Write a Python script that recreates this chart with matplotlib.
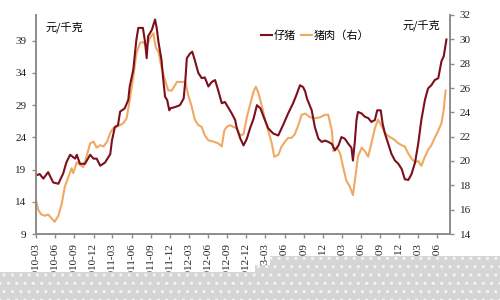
import matplotlib
matplotlib.use("Agg")
import matplotlib.pyplot as plt
import matplotlib.dates as mdates
from matplotlib.patches import Polygon
import pandas as pd

# ---- data ----
piglet_dates = [
    "2010-03-01", "2010-03-19", "2010-04-05", "2010-04-28", "2010-05-22", "2010-06-16",
    "2010-07-09", "2010-07-24", "2010-08-11", "2010-09-04", "2010-09-12", "2010-09-27",
    "2010-10-21", "2010-11-15", "2010-12-01", "2010-12-16", "2011-01-02", "2011-01-25",
    "2011-02-19", "2011-02-27", "2011-03-13", "2011-03-28", "2011-04-07", "2011-04-29",
    "2011-05-16", "2011-05-23", "2011-06-09", "2011-06-24", "2011-07-03", "2011-07-25",
    "2011-08-04", "2011-08-12", "2011-08-19", "2011-09-06", "2011-09-21", "2011-09-29",
    "2011-10-07", "2011-10-22", "2011-10-29", "2011-11-08", "2011-11-18", "2011-11-28",
    "2011-12-02", "2011-12-25", "2012-01-18", "2012-02-05", "2012-02-13", "2012-02-20",
    "2012-03-06", "2012-03-17", "2012-03-29", "2012-04-15", "2012-05-01", "2012-05-16",
    "2012-06-02", "2012-06-18", "2012-07-04", "2012-07-19", "2012-08-05", "2012-08-20",
    "2012-09-07", "2012-09-22", "2012-10-08", "2012-10-16", "2012-11-02", "2012-11-17",
    "2012-12-03", "2012-12-18", "2013-01-04", "2013-01-20", "2013-02-06", "2013-02-21",
    "2013-03-15", "2013-04-08", "2013-05-02", "2013-05-25", "2013-06-18", "2013-07-12",
    "2013-07-28", "2013-08-14", "2013-08-29", "2013-09-08", "2013-09-16", "2013-10-09",
    "2013-10-24", "2013-11-10", "2013-11-26", "2013-12-12", "2013-12-27", "2014-01-13",
    "2014-01-28", "2014-02-14", "2014-02-28", "2014-03-16", "2014-04-02", "2014-04-17",
    "2014-04-24", "2014-05-03", "2014-05-11", "2014-05-18", "2014-06-05", "2014-06-20",
    "2014-07-06", "2014-07-21", "2014-08-07", "2014-08-18", "2014-09-04", "2014-09-13",
    "2014-09-24", "2014-10-10", "2014-10-25", "2014-11-11", "2014-11-27", "2014-12-13",
    "2014-12-28", "2015-01-14", "2015-01-29", "2015-02-15", "2015-03-02", "2015-03-17",
    "2015-04-03", "2015-04-18", "2015-05-04", "2015-05-20", "2015-06-06", "2015-06-21",
    "2015-07-02", "2015-07-15",
]
piglet_values = [
    18.1, 18.3, 17.6, 18.6, 17.0, 16.8,
    18.4, 20.1, 21.3, 20.7, 21.3, 19.9,
    19.9, 21.3, 20.7, 20.7, 19.6, 20.1,
    21.4, 23.5, 25.6, 25.9, 28.0, 28.5,
    29.8, 31.9, 34.5, 39.2, 41.0, 41.0,
    38.9, 36.3, 39.7, 40.7, 42.3, 41.0,
    38.9, 36.0, 33.4, 30.3, 29.8, 28.2,
    28.5, 28.7, 29.0, 30.05, 32.9, 36.3,
    37.0, 37.3, 36.0, 34.0, 33.2, 33.3,
    31.9, 32.6, 32.9, 31.3, 29.3, 29.5,
    28.5, 27.7, 26.7, 25.4, 23.8, 22.75,
    23.8, 25.4, 26.9, 29.0, 28.5, 27.2,
    25.4, 24.6, 24.3, 25.9, 27.7, 29.3,
    30.6, 32.1, 31.8, 31.1, 30.05, 28.2,
    25.6, 23.8, 23.3, 23.5, 23.3, 23.0,
    22.0, 22.75, 24.05, 23.8, 23.0, 22.4,
    20.4, 23.3, 26.7, 27.95, 27.7, 27.2,
    27.0, 26.4, 26.7, 28.2, 28.2, 26.1,
    24.6, 23.0, 21.45, 20.4, 19.9, 19.1,
    17.5, 17.4, 18.3, 20.1, 23.0, 26.7,
    29.8, 31.6, 32.1, 32.9, 33.2, 35.8,
    36.6, 39.2,
]

pork_dates = [
    "2010-03-01", "2010-03-11", "2010-03-27", "2010-04-13", "2010-04-28", "2010-05-14",
    "2010-05-29", "2010-06-16", "2010-07-02", "2010-07-17", "2010-08-03", "2010-08-18",
    "2010-08-26", "2010-09-12", "2010-09-27", "2010-10-13", "2010-10-29", "2010-11-15",
    "2010-12-01", "2010-12-16", "2011-01-02", "2011-01-18", "2011-02-04", "2011-02-19",
    "2011-03-05", "2011-03-28", "2011-04-22", "2011-05-08", "2011-05-23", "2011-06-09",
    "2011-06-24", "2011-07-11", "2011-07-25", "2011-08-12", "2011-08-27", "2011-09-13",
    "2011-09-25", "2011-10-07", "2011-10-22", "2011-11-08", "2011-11-23", "2011-12-10",
    "2012-01-04", "2012-01-26", "2012-02-13", "2012-02-27", "2012-03-14", "2012-03-29",
    "2012-04-15", "2012-05-01", "2012-05-16", "2012-06-02", "2012-06-25", "2012-07-19",
    "2012-08-05", "2012-08-17", "2012-08-28", "2012-09-14", "2012-09-29", "2012-10-16",
    "2012-11-02", "2012-11-17", "2012-12-03", "2012-12-18", "2013-01-04", "2013-01-15",
    "2013-01-27", "2013-02-13", "2013-02-28", "2013-03-15", "2013-04-01", "2013-04-13",
    "2013-05-02", "2013-05-18", "2013-06-04", "2013-06-18", "2013-07-05", "2013-07-20",
    "2013-08-06", "2013-08-22", "2013-09-08", "2013-10-01", "2013-10-24", "2013-11-18",
    "2013-12-12", "2013-12-27", "2014-01-13", "2014-01-21", "2014-02-07", "2014-02-22",
    "2014-03-08", "2014-03-23", "2014-04-09", "2014-04-24", "2014-05-08", "2014-05-18",
    "2014-06-05", "2014-06-20", "2014-07-06", "2014-07-21", "2014-08-07", "2014-08-22",
    "2014-09-09", "2014-09-24", "2014-10-10", "2014-10-25", "2014-11-11", "2014-11-27",
    "2014-12-13", "2014-12-28", "2015-01-14", "2015-01-29", "2015-02-15", "2015-03-02",
    "2015-03-17", "2015-04-03", "2015-04-18", "2015-05-04", "2015-05-20", "2015-06-06",
    "2015-06-21", "2015-07-02", "2015-07-11",
]
pork_values = [
    16.8, 16.0, 15.6, 15.5, 15.6, 15.3,
    15.0, 15.5, 16.5, 17.9, 18.7, 19.4,
    19.0, 19.9, 19.7, 19.5, 20.4, 21.45,
    21.6, 21.1, 21.3, 21.2, 21.6, 22.3,
    22.7, 22.85, 23.1, 23.5, 25.0, 26.9,
    28.85, 29.7, 29.8, 29.4, 30.1, 30.5,
    29.3, 29.0, 27.7, 26.65, 25.8, 25.8,
    26.5, 26.5, 26.5, 25.4, 24.5, 23.4,
    22.95, 22.8, 22.1, 21.7, 21.6, 21.45,
    21.2, 22.5, 22.8, 22.95, 22.8, 22.7,
    22.1, 22.2, 23.6, 24.6, 25.7, 26.1,
    25.6, 24.5, 23.4, 22.5, 21.45, 20.35,
    20.5, 21.2, 21.6, 21.9, 21.9, 22.2,
    22.95, 23.8, 23.9, 23.6, 23.5, 23.6,
    23.8, 23.8, 22.5, 20.8, 21.1, 20.6,
    19.5, 18.4, 17.9, 17.2, 19.0, 20.35,
    21.1, 20.8, 20.35, 21.45, 22.7, 23.4,
    22.85, 22.3, 22.05, 21.9, 21.7, 21.45,
    21.3, 21.2, 20.6, 20.2, 19.9, 20.0,
    19.6, 20.35, 20.9, 21.3, 21.9, 22.5,
    23.1, 24.2, 25.8,
]

series_labels = ["仔猪", "猪肉（右）"]
unit_label = "元/千克"
left_ticks = [9, 14, 19, 24, 29, 34, 39]
right_ticks = [14, 16, 18, 20, 22, 24, 26, 28, 30, 32]
x_ticks = pd.date_range("2010-03-01", "2015-06-01", freq="3MS")

# ---- style ----
RED = "#7d0f1c"
ORANGE = "#f0a862"
GRAY = "#8c8c8c"
serif = ["Liberation Serif", "Noto Sans CJK SC"]
cjk = ["Noto Sans CJK SC", "DejaVu Sans"]

fig = plt.figure(figsize=(5, 3), dpi=100)
ax = fig.add_axes([0.072, 0.22, 0.828, 0.73])
ax2 = ax.twinx()

l1, = ax.plot(pd.to_datetime(piglet_dates), piglet_values, color=RED, lw=1.5)
l2, = ax2.plot(pd.to_datetime(pork_dates), pork_values, color=ORANGE, lw=1.5)
ax.set_zorder(ax2.get_zorder() + 1)
ax.patch.set_visible(False)

ax.set_ylim(9, 43)
ax2.set_ylim(14, 32)
ax.set_xlim(pd.Timestamp("2010-03-01"), pd.Timestamp("2015-08-01"))
ax.set_yticks(left_ticks)
ax2.set_yticks(right_ticks)
ax.set_xticks(x_ticks)
ax.set_xticklabels([d.strftime("%Y-%m") for d in x_ticks], rotation=90,
                   fontfamily=serif, fontsize=8)
for lab in ax.get_yticklabels():
    lab.set_fontfamily(serif)
    lab.set_fontsize(8)
for lab in ax2.get_yticklabels():
    lab.set_fontfamily(serif)
    lab.set_fontsize(8)

for a in (ax, ax2):
    a.spines["top"].set_visible(False)
    for s in ("left", "right", "bottom"):
        a.spines[s].set_color(GRAY)
        a.spines[s].set_linewidth(1.2)
    a.tick_params(colors="#222222", width=1.0, length=3)
    a.tick_params(axis="both", color=GRAY)
ax.tick_params(axis="y", pad=4)
ax2.tick_params(axis="y", pad=4)

fig.text(0.092, 0.91, unit_label, fontfamily=cjk, fontsize=8, va="center", ha="left")
fig.text(0.88, 0.917, unit_label, fontfamily=cjk, fontsize=8, va="center", ha="right")

leg = ax.legend([l1, l2], series_labels, loc="center", bbox_to_anchor=(0.63, 0.88),
                bbox_transform=fig.transFigure, ncol=2, frameon=False,
                handlelength=1.0, handletextpad=0.2, columnspacing=0.4,
                prop={"family": cjk, "size": 8})

# grey scan band at the bottom of the source image
band = Polygon([(0, 0), (1, 0), (1, 1 - 256 / 300), (540 / 1000, 1 - 256 / 300),
                (540 / 1000, 1 - 265 / 300), (510 / 1000, 1 - 265 / 300),
                (510 / 1000, 1 - 272 / 300), (0, 1 - 272 / 300)],
               closed=True, transform=fig.transFigure, facecolor="#d5d5d5",
               edgecolor="#f4f4f4", hatch="..", linewidth=0, zorder=10)
fig.patches.append(band)

fig.savefig("out.png", dpi=100)
